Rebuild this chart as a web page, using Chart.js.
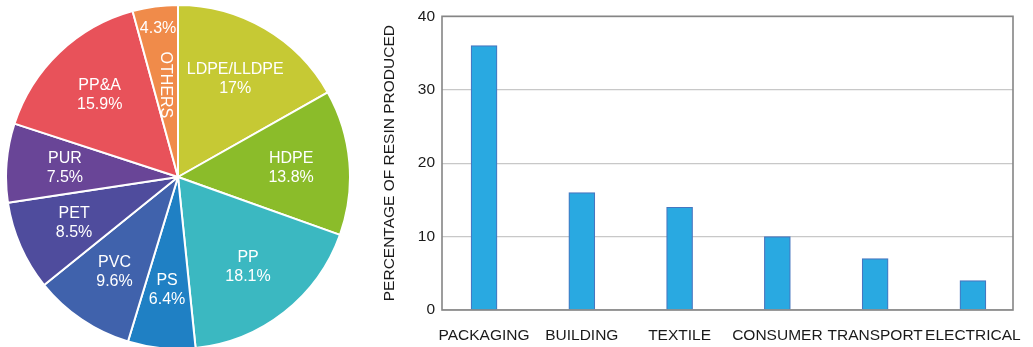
<!DOCTYPE html>
<html>
<head>
<meta charset="utf-8">
<script src="https://cdn.jsdelivr.net/npm/chart.js@4.4.1/dist/chart.umd.min.js"></script>
<style>
  html, body { margin: 0; padding: 0; background: #fff; overflow: hidden; }
  body { width: 1033px; height: 347px; position: relative; }
  #pieChart { position: absolute; left: 5px; top: 4px; }
  #barChart { position: absolute; left: 370px; top: 0; }
</style>
</head>
<body>
<canvas id="pieChart" width="346" height="346"></canvas>
<canvas id="barChart" width="663" height="347"></canvas>
<script>
// resin types, clockwise from 12 o'clock
const resinTypes = ['LDPE/LLDPE', 'HDPE', 'PP', 'PS', 'PVC', 'PET', 'PUR', 'PP&A', 'OTHERS'];
const resinShares = [17, 13.8, 18.1, 6.4, 9.6, 8.5, 7.5, 15.9, 4.3];
const resinColors = ['#c6c934', '#8bbc2a', '#3bb8c1', '#1f80c4', '#4062ac', '#4f4c9d', '#694597', '#e8525a', '#f08b4a'];

// end-use sectors
const sectorNames = ['PACKAGING', 'BUILDING', 'TEXTILE', 'CONSUMER', 'TRANSPORT', 'ELECTRICAL'];
const sectorShares = [36, 16, 14, 10, 7, 4];
const yTicks = { min: 0, max: 40, step: 10 };

const FONT = '"Liberation Sans", Arial, Helvetica, sans-serif';

const pieLabels = {
    id: 'pieLabels',
    afterDatasetsDraw(chart) {
        const ctx = chart.ctx;
        const arcs = chart.getDatasetMeta(0).data;
        ctx.save();
        ctx.fillStyle = '#fff';
        ctx.font = '16px ' + FONT;
        ctx.textAlign = 'center';
        ctx.textBaseline = 'middle';
        arcs.forEach((arc, i) => {
            const mid = (arc.startAngle + arc.endAngle) / 2;
            const pct = resinShares[i] + '%';
            if (resinTypes[i] === 'OTHERS') {
                // thin slice: value near the rim, name turned on its side
                let r = arc.outerRadius * 0.87;
                ctx.fillText(pct, arc.x + Math.cos(mid) * r, arc.y + Math.sin(mid) * r);
                r = arc.outerRadius * 0.54;
                ctx.save();
                ctx.translate(arc.x + Math.cos(mid) * r, arc.y + Math.sin(mid) * r);
                ctx.rotate(Math.PI / 2);
                ctx.fillText(resinTypes[i], 0, 0);
                ctx.restore();
                return;
            }
            const r = arc.outerRadius * 0.66;
            const x = arc.x + Math.cos(mid) * r;
            const y = arc.y + Math.sin(mid) * r;
            ctx.fillText(resinTypes[i], x, y - 9);
            ctx.fillText(pct, x, y + 10);
        });
        ctx.restore();
    }
};

new Chart(document.getElementById('pieChart'), {
    type: 'pie',
    data: {
        labels: resinTypes,
        datasets: [{
            data: resinShares,
            backgroundColor: resinColors,
            borderColor: '#ffffff',
            borderWidth: 2
        }]
    },
    options: {
        responsive: false,
        animation: false,
        layout: { padding: 0 },
        plugins: {
            legend: { display: false },
            tooltip: { enabled: false }
        }
    },
    plugins: [pieLabels]
});

// grey box round the plot area
const plotFrame = {
    id: 'plotFrame',
    afterDatasetsDraw(chart) {
        const a = chart.chartArea;
        const ctx = chart.ctx;
        ctx.save();
        ctx.strokeStyle = '#858585';
        ctx.lineWidth = 1.6;
        ctx.strokeRect(a.left, a.top, a.right - a.left, a.bottom - a.top);
        ctx.restore();
    }
};

new Chart(document.getElementById('barChart'), {
    type: 'bar',
    data: {
        datasets: [{
            data: sectorShares.map((v, i) => ({ x: i, y: v })),
            backgroundColor: '#29a9e1',
            borderColor: '#4676c0',
            borderWidth: 1.2,
            borderSkipped: 'bottom',
            barThickness: 26
        }]
    },
    options: {
        responsive: false,
        animation: false,
        layout: { padding: { left: 10, right: 20, top: 14, bottom: 0 } },
        plugins: {
            legend: { display: false },
            tooltip: { enabled: false }
        },
        scales: {
            x: {
                type: 'linear',
                min: -0.43,
                max: 5.41,
                offset: false,
                grid: { display: false, offset: false },
                border: { display: false },
                afterFit(scale) { scale.height = 37; },
                ticks: {
                    stepSize: 1,
                    includeBounds: false,
                    autoSkip: false,
                    maxRotation: 0,
                    padding: 8,
                    color: '#1a1a1a',
                    font: { family: FONT, size: 15.5 },
                    callback: v => sectorNames[v] ?? ''
                }
            },
            y: {
                min: yTicks.min,
                max: yTicks.max,
                grid: { color: '#c8c8c8', lineWidth: 1.2, drawTicks: false },
                border: { display: false },
                afterFit(scale) { scale.width = 62; },
                ticks: {
                    stepSize: yTicks.step,
                    padding: 7,
                    color: '#1a1a1a',
                    font: { family: FONT, size: 15.5 }
                },
                title: {
                    display: true,
                    text: 'PERCENTAGE OF RESIN PRODUCED',
                    padding: 0,
                    color: '#1a1a1a',
                    font: { family: FONT, size: 15.5 }
                }
            }
        }
    },
    plugins: [plotFrame]
});
</script>
</body>
</html>
